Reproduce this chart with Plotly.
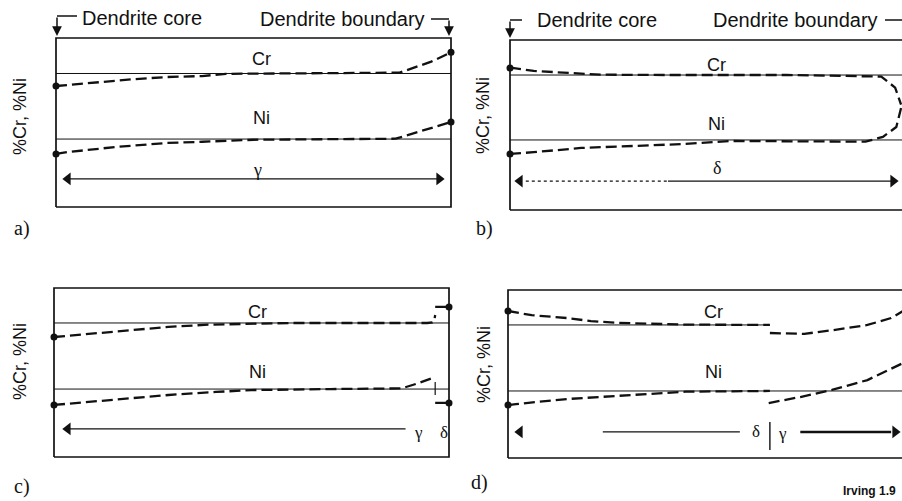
import plotly.graph_objects as go

W, H = 902, 501

# ---------------- text ----------------
panel_labels = ["a)", "b)", "c)", "d)"]
axis_title = "%Cr, %Ni"
core_text = "Dendrite core"
boundary_text = "Dendrite boundary"
credit_text = "Irving 1.9"
element_labels = ["Cr", "Ni"]

# ---------------- data ----------------
# x: position from dendrite core (0) to dendrite boundary (100)
# y: relative composition (0 = bottom of box, 100 = top of box)
cr_level = [79.0, 79.4, 79.3, 79.2]      # nominal Cr content per panel
ni_level = [40.2, 41.2, 40.2, 39.9]      # nominal Ni content per panel
cr_line_end = [100, 100, 100, 66.3]      # extent of the nominal Cr line

# a) primary austenite
cr_a_x = [0, 3, 11, 20, 28, 37, 43, 60, 87, 95, 100]
cr_a_y = [71.6, 72.2, 74.0, 75.7, 76.9, 77.5, 78.8, 79.0, 79.5, 86.0, 91.5]
ni_a_x = [0, 3, 15, 28, 37, 50, 86, 95, 100]
ni_a_y = [31.4, 32.5, 35.5, 37.9, 38.6, 39.8, 40.4, 47.0, 50.3]

# b) primary ferrite
cr_b_x = [0, 1, 6, 14, 23, 40, 70, 94, 97.5, 99.0]
cr_b_y = [83.5, 83.5, 81.8, 80.6, 79.6, 79.4, 79.4, 78.5, 72.0, 62.0]
ni_b_x = [0, 6, 18, 31, 44, 56, 80, 90, 94.4, 97.8, 99.0]
ni_b_y = [33.0, 34.0, 36.5, 37.6, 38.8, 40.6, 40.6, 40.2, 43.0, 48.8, 60.0]

# c) austenite with ferrite at the boundary
cr_c_x = [0, 3, 12, 20, 29, 39, 60, 94.5, 95.8, 96.3, 96.5]
cr_c_y = [71.0, 71.6, 73.4, 75.0, 77.0, 78.3, 79.3, 79.3, 79.6, 81.0, 84.0]
ni_c_x = [0, 3, 16, 29, 41, 50, 70, 88, 92, 96.5]
ni_c_y = [30.8, 31.4, 34.3, 36.7, 38.5, 39.6, 40.2, 40.6, 43.5, 47.3]
cr_c_delta_x = [96.5, 100]
cr_c_delta_y = [88.8, 88.8]
ni_c_delta_x = [96.5, 100]
ni_c_delta_y = [32.0, 32.0]
ni_c_tick_x = [96.5, 96.5]
ni_c_tick_y = [36.7, 44.4]

# d) ferrite core, austenite boundary
cr_d1_x = [0, 6, 15, 21, 28, 45, 66.3]
cr_d1_y = [87.5, 85.0, 83.3, 81.5, 80.4, 79.4, 79.2]
cr_d2_x = [66.3, 70, 75, 82, 91, 97, 100]
cr_d2_y = [74.4, 74.0, 73.9, 76.0, 79.2, 83.3, 87.5]
ni_d1_x = [0, 2, 15, 28, 38, 45, 66.3]
ni_d1_y = [31.5, 32.1, 35.1, 36.9, 38.1, 39.5, 39.9]
ni_d2_x = [66.0, 74, 82, 91, 100]
ni_d2_y = [32.7, 36.3, 40.5, 46.4, 56.5]

phase_gamma = "γ"
phase_delta = "δ"

# ---------------- layout helpers ----------------
BLACK = "#111111"
SANS = "Liberation Sans, Arial, sans-serif"
SERIF = "Liberation Serif, Times New Roman, serif"

boxes = [(56, 451, 38, 207), (510, 905, 40, 210), (54, 449, 288, 457), (508, 903, 290, 458)]
PAD = 4

fig = go.Figure()
layout_axes = {}
for i, (L, R, T, B) in enumerate(boxes):
    sx = (R - L) / 100.0
    sy = (B - T) / 100.0
    lp = L - PAD * sx
    rp = min(R + PAD * sx, W)
    tp = T - PAD * sy
    bp = B + PAD * sy
    sfx = "" if i == 0 else str(i + 1)
    layout_axes["xaxis" + sfx] = dict(domain=[lp / W, rp / W], range=[(lp - L) / sx, (rp - L) / sx],
                                      visible=False, fixedrange=True, anchor="y" + sfx)
    layout_axes["yaxis" + sfx] = dict(domain=[1 - bp / H, 1 - tp / H], range=[(B - bp) / sy, (B - tp) / sy],
                                      visible=False, fixedrange=True, anchor="x" + sfx)


def ax(i):
    return ("x" if i == 0 else f"x{i+1}"), ("y" if i == 0 else f"y{i+1}")


def line(i, x, y, width=1.0, dash="solid", color=BLACK):
    xa, ya = ax(i)
    fig.add_trace(go.Scatter(x=x, y=y, xaxis=xa, yaxis=ya, mode="lines",
                             line=dict(color=color, width=width, dash=dash),
                             hoverinfo="skip", showlegend=False))


def dots(i, x, y, symbol="circle", size=7):
    xa, ya = ax(i)
    fig.add_trace(go.Scatter(x=x, y=y, xaxis=xa, yaxis=ya, mode="markers",
                             marker=dict(color=BLACK, size=size, symbol=symbol, line=dict(width=0)),
                             cliponaxis=False, hoverinfo="skip", showlegend=False))


PROFILE_DASH = "11px,5px"
PW = 2.3

# boxes and nominal composition lines
for i in range(4):
    line(i, [0, 100, 100, 0, 0], [0, 0, 100, 100, 0], width=1.7)
    line(i, [0, cr_line_end[i]], [cr_level[i]] * 2, width=1.0)
    line(i, [0, 100], [ni_level[i]] * 2, width=1.0)

# panel a
line(0, cr_a_x, cr_a_y, PW, PROFILE_DASH)
line(0, ni_a_x, ni_a_y, PW, PROFILE_DASH)
dots(0, [cr_a_x[0], cr_a_x[-1], ni_a_x[0], ni_a_x[-1]], [cr_a_y[0], cr_a_y[-1], ni_a_y[0], ni_a_y[-1]])

# panel b
line(1, cr_b_x, cr_b_y, PW, PROFILE_DASH)
line(1, ni_b_x, ni_b_y, PW, PROFILE_DASH)
dots(1, [cr_b_x[0], ni_b_x[0]], [cr_b_y[0], ni_b_y[0]])

# panel c
line(2, cr_c_x, cr_c_y, PW, PROFILE_DASH)
line(2, ni_c_x, ni_c_y, PW, PROFILE_DASH)
line(2, cr_c_delta_x, cr_c_delta_y, 2.2)
line(2, ni_c_delta_x, ni_c_delta_y, 2.2)
line(2, ni_c_tick_x, ni_c_tick_y, 1.2)
dots(2, [cr_c_x[0], ni_c_x[0], cr_c_delta_x[-1], ni_c_delta_x[-1]],
     [cr_c_y[0], ni_c_y[0], cr_c_delta_y[-1], ni_c_delta_y[-1]])

# panel d
line(3, cr_d1_x, cr_d1_y, PW, PROFILE_DASH)
line(3, cr_d2_x, cr_d2_y, PW, PROFILE_DASH)
line(3, ni_d1_x, ni_d1_y, PW, PROFILE_DASH)
line(3, ni_d2_x, ni_d2_y, PW, PROFILE_DASH)
dots(3, [cr_d1_x[0], ni_d1_x[0]], [cr_d1_y[0], ni_d1_y[0]])

# phase arrows
ARW = 11
line(0, [3, 97], [16.6, 16.6], 1.2)
dots(0, [3], [16.6], "triangle-left", ARW)
dots(0, [97], [16.6], "triangle-right", ARW)

line(1, [4, 40], [17, 17], 1.2, "dot")
line(1, [40, 97], [17, 17], 1.2)
dots(1, [2.5], [17], "triangle-left", ARW)
dots(1, [97], [17], "triangle-right", ARW)

line(2, [3.5, 89], [16.6, 16.6], 1.2)
dots(2, [3.5], [16.6], "triangle-left", ARW)

dots(3, [3], [15.5], "triangle-left", ARW)
line(3, [24, 58.7], [15.5, 15.5], 1.2)
line(3, [66.3, 66.3], [4.8, 21.4], 1.4)
line(3, [74, 97], [15.5, 15.5], 2.4)
dots(3, [98], [15.5], "triangle-right", ARW)

annotations = []


def data_text(i, x, y, text, size=19, family=SANS):
    xa, ya = ax(i)
    annotations.append(dict(x=x, y=y, xref=xa, yref=ya, text=text, showarrow=False,
                            font=dict(family=family, size=size, color=BLACK),
                            xanchor="center", yanchor="middle"))


def paper_text(px, py, text, size=19, family=SANS, xanchor="center", angle=0, weight="normal"):
    annotations.append(dict(x=px / W, y=1 - py / H, xref="paper", yref="paper", text=text,
                            showarrow=False, textangle=angle,
                            font=dict(family=family, size=size, color=BLACK, weight=weight),
                            xanchor=xanchor, yanchor="middle"))


# element labels
cr_lbl_pos = [(52, 87.6), (52.4, 85.5), (51.4, 85.8), (52, 87.0)]
ni_lbl_pos = [(52, 52.7), (52.4, 50.5), (51.4, 50.3), (52, 51.0)]
for i in range(4):
    data_text(i, cr_lbl_pos[i][0], cr_lbl_pos[i][1], element_labels[0], 18)
    data_text(i, ni_lbl_pos[i][0], ni_lbl_pos[i][1], element_labels[1], 18)

# phase labels
data_text(0, 51, 22, phase_gamma, 18, SERIF)
data_text(1, 52.4, 25, phase_delta, 18, SERIF)
data_text(2, 92.3, 14.5, phase_gamma, 17, SERIF)
data_text(2, 98.8, 14.5, phase_delta, 17, SERIF)
data_text(3, 62.8, 15.5, phase_delta, 17, SERIF)
data_text(3, 69.4, 14.5, phase_gamma, 17, SERIF)

# y-axis titles
paper_text(20, 117, axis_title, 18, angle=-90)
paper_text(483, 116, axis_title, 18, angle=-90)
paper_text(20, 362, axis_title, 18, angle=-90)
paper_text(484, 365, axis_title, 18, angle=-90)

# panel labels
paper_text(12, 228, panel_labels[0], 20, SERIF, "left")
paper_text(474, 228, panel_labels[1], 20, SERIF, "left")
paper_text(12, 486, panel_labels[2], 20, SERIF, "left")
paper_text(469, 482, panel_labels[3], 20, SERIF, "left")

# header texts
paper_text(80, 18, core_text, 20, xanchor="left")
paper_text(258, 19, boundary_text, 20, xanchor="left")
paper_text(535, 20, core_text, 20, xanchor="left")
paper_text(711, 20, boundary_text, 20, xanchor="left")

# credit
paper_text(869, 491, credit_text, 12, weight="bold")

# bracket arrows
shapes = []


def hseg(x0, x1, y):
    shapes.append(dict(type="line", xref="paper", yref="paper", x0=x0 / W, x1=x1 / W,
                       y0=1 - y / H, y1=1 - y / H, line=dict(color=BLACK, width=1.5)))


def down_arrow(x, y_top, y_tip):
    annotations.append(dict(x=x / W, y=1 - y_tip / H, xref="paper", yref="paper", text="",
                            showarrow=True, ax=0, ay=-(y_tip - y_top), axref="pixel", ayref="pixel",
                            arrowhead=2, arrowsize=1.3, arrowwidth=1.5, arrowcolor=BLACK, standoff=0))


hseg(57, 77, 16)
down_arrow(57, 16, 36)
hseg(431, 449, 19)
down_arrow(449, 19, 36)
hseg(510, 522, 20)
down_arrow(510, 20, 38)
hseg(885, 902, 20)

fig.update_layout(
    width=W, height=H, margin=dict(l=0, r=0, t=0, b=0),
    paper_bgcolor="white", plot_bgcolor="white",
    showlegend=False, annotations=annotations, shapes=shapes,
    **layout_axes,
)

fig.write_html("out.html", config={"displayModeBar": False, "staticPlot": True},
               post_script="document.body.style.margin='0px';document.body.style.overflow='hidden';")
